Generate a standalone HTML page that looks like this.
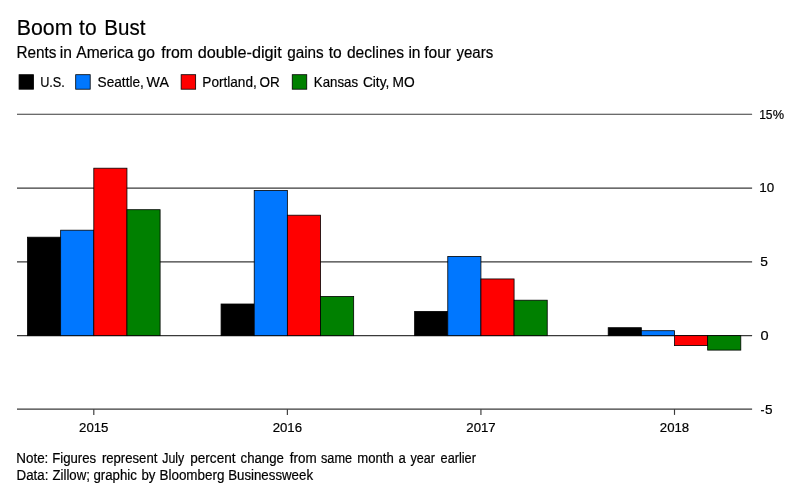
<!DOCTYPE html>
<html lang="en">
<head>
<meta charset="utf-8">
<title>Boom to Bust</title>
<style>
html,body{margin:0;padding:0;background:#fff;}
body{width:800px;height:490px;overflow:hidden;font-family:"Liberation Sans",Arial,Helvetica,sans-serif;}
svg{display:block;will-change:transform;}
text{font-family:"Liberation Sans",Arial,Helvetica,sans-serif;fill:#000;stroke:#000;stroke-width:0.2px;}
.g{stroke:#3a3a3a;stroke-width:1.15;}
.b{stroke:#000;stroke-width:0.8;}
</style>
</head>
<body>
<svg width="800" height="490" viewBox="0 0 800 490">
<rect x="0" y="0" width="800" height="490" fill="#ffffff"/>
<text x="16.78" y="34.9" font-size="22" textLength="55.76" lengthAdjust="spacingAndGlyphs">Boom</text>
<text x="79.10" y="34.9" font-size="22" textLength="17.52" lengthAdjust="spacingAndGlyphs">to</text>
<text x="104.27" y="34.9" font-size="22" textLength="41.09" lengthAdjust="spacingAndGlyphs">Bust</text>
<text x="16.54" y="57.8" font-size="16" textLength="39.96" lengthAdjust="spacingAndGlyphs">Rents</text>
<text x="59.80" y="57.8" font-size="16" textLength="12.14" lengthAdjust="spacingAndGlyphs">in</text>
<text x="76.25" y="57.8" font-size="16" textLength="57.15" lengthAdjust="spacingAndGlyphs">America</text>
<text x="137.52" y="57.8" font-size="16" textLength="17.35" lengthAdjust="spacingAndGlyphs">go</text>
<text x="161.25" y="57.8" font-size="16" textLength="31.57" lengthAdjust="spacingAndGlyphs">from</text>
<text x="197.75" y="57.8" font-size="16" textLength="83.94" lengthAdjust="spacingAndGlyphs">double-digit</text>
<text x="287.25" y="57.8" font-size="16" textLength="36.50" lengthAdjust="spacingAndGlyphs">gains</text>
<text x="328.77" y="57.8" font-size="16" textLength="13.01" lengthAdjust="spacingAndGlyphs">to</text>
<text x="346.90" y="57.8" font-size="16" textLength="57.10" lengthAdjust="spacingAndGlyphs">declines</text>
<text x="408.38" y="57.8" font-size="16" textLength="12.14" lengthAdjust="spacingAndGlyphs">in</text>
<text x="424.25" y="57.8" font-size="16" textLength="26.80" lengthAdjust="spacingAndGlyphs">four</text>
<text x="456.50" y="57.8" font-size="16" textLength="36.70" lengthAdjust="spacingAndGlyphs">years</text>
<text x="40.15" y="87.4" font-size="15.0" textLength="24.74" lengthAdjust="spacingAndGlyphs">U.S.</text>
<text x="97.55" y="87.4" font-size="15.0" textLength="46.31" lengthAdjust="spacingAndGlyphs">Seattle,</text>
<text x="146.60" y="87.4" font-size="15.0" textLength="22.35" lengthAdjust="spacingAndGlyphs">WA</text>
<text x="202.34" y="87.4" font-size="15.0" textLength="54.47" lengthAdjust="spacingAndGlyphs">Portland,</text>
<text x="259.55" y="87.4" font-size="15.0" textLength="20.25" lengthAdjust="spacingAndGlyphs">OR</text>
<text x="313.87" y="87.4" font-size="15.0" textLength="44.17" lengthAdjust="spacingAndGlyphs">Kansas</text>
<text x="362.90" y="87.4" font-size="15.0" textLength="26.42" lengthAdjust="spacingAndGlyphs">City,</text>
<text x="392.58" y="87.4" font-size="15.0" textLength="22.18" lengthAdjust="spacingAndGlyphs">MO</text>
<text x="16.29" y="463.25" font-size="14.0" textLength="32.06" lengthAdjust="spacingAndGlyphs">Note:</text>
<text x="52.16" y="463.25" font-size="14.0" textLength="43.94" lengthAdjust="spacingAndGlyphs">Figures</text>
<text x="101.90" y="463.25" font-size="14.0" textLength="55.50" lengthAdjust="spacingAndGlyphs">represent</text>
<text x="162.25" y="463.25" font-size="14.0" textLength="22.00" lengthAdjust="spacingAndGlyphs">July</text>
<text x="190.25" y="463.25" font-size="14.0" textLength="45.24" lengthAdjust="spacingAndGlyphs">percent</text>
<text x="240.60" y="463.25" font-size="14.0" textLength="43.20" lengthAdjust="spacingAndGlyphs">change</text>
<text x="289.75" y="463.25" font-size="14.0" textLength="26.89" lengthAdjust="spacingAndGlyphs">from</text>
<text x="321.00" y="463.25" font-size="14.0" textLength="31.06" lengthAdjust="spacingAndGlyphs">same</text>
<text x="357.25" y="463.25" font-size="14.0" textLength="36.49" lengthAdjust="spacingAndGlyphs">month</text>
<text x="398.44" y="463.25" font-size="14.0" textLength="7.32" lengthAdjust="spacingAndGlyphs">a</text>
<text x="410.60" y="463.25" font-size="14.0" textLength="24.35" lengthAdjust="spacingAndGlyphs">year</text>
<text x="440.60" y="463.25" font-size="14.0" textLength="35.34" lengthAdjust="spacingAndGlyphs">earlier</text>
<text x="16.55" y="479.6" font-size="14.0" textLength="31.80" lengthAdjust="spacingAndGlyphs">Data:</text>
<text x="52.50" y="479.6" font-size="14.0" textLength="37.34" lengthAdjust="spacingAndGlyphs">Zillow;</text>
<text x="93.50" y="479.6" font-size="14.0" textLength="43.40" lengthAdjust="spacingAndGlyphs">graphic</text>
<text x="141.51" y="479.6" font-size="14.0" textLength="13.97" lengthAdjust="spacingAndGlyphs">by</text>
<text x="159.44" y="479.6" font-size="14.0" textLength="65.07" lengthAdjust="spacingAndGlyphs">Bloomberg</text>
<text x="228.15" y="479.6" font-size="14.0" textLength="84.90" lengthAdjust="spacingAndGlyphs">Businessweek</text>
<text x="759.15" y="118.6" font-size="13.4" textLength="13.41" lengthAdjust="spacingAndGlyphs">15</text>
<text x="772.80" y="118.6" font-size="13.4" textLength="11.36" lengthAdjust="spacingAndGlyphs">%</text>
<text x="759.30" y="192.1" font-size="13.4" textLength="14.90" lengthAdjust="spacingAndGlyphs">10</text>
<text x="760.30" y="266.2" font-size="13.4" textLength="7.66" lengthAdjust="spacingAndGlyphs">5</text>
<text x="760.50" y="340.3" font-size="13.4" textLength="8.09" lengthAdjust="spacingAndGlyphs">0</text>
<text x="760.50" y="414.3" font-size="13.4" textLength="4.01" lengthAdjust="spacingAndGlyphs">-</text>
<text x="764.90" y="414.3" font-size="13.4" textLength="7.55" lengthAdjust="spacingAndGlyphs">5</text>
<text x="79.10" y="431.9" font-size="13.2" textLength="29.33" lengthAdjust="spacingAndGlyphs">2015</text>
<text x="272.70" y="431.9" font-size="13.2" textLength="29.33" lengthAdjust="spacingAndGlyphs">2016</text>
<text x="466.30" y="431.9" font-size="13.2" textLength="29.33" lengthAdjust="spacingAndGlyphs">2017</text>
<text x="659.85" y="431.9" font-size="13.2" textLength="29.33" lengthAdjust="spacingAndGlyphs">2018</text>
<rect class="b" x="19.06" y="74.7" width="14.5" height="14.5" fill="#000000"/>
<rect class="b" x="75.7" y="74.7" width="14.5" height="14.5" fill="#0077ff"/>
<rect class="b" x="181.15" y="74.7" width="14.5" height="14.5" fill="#ff0000"/>
<rect class="b" x="292.25" y="74.7" width="14.5" height="14.5" fill="#008000"/>
<line class="g" x1="17" x2="752.1" y1="114.25" y2="114.25"/>
<line class="g" x1="17" x2="752.1" y1="188.05" y2="188.05"/>
<line class="g" x1="17" x2="752.1" y1="261.85" y2="261.85"/>
<line class="g" x1="17" x2="752.1" y1="335.65" y2="335.65"/>
<line class="g" x1="17" x2="752.1" y1="409.15" y2="409.15"/>
<line class="g" x1="93.8" x2="93.8" y1="409.15" y2="414.9"/>
<line class="g" x1="287.37" x2="287.37" y1="409.15" y2="414.9"/>
<line class="g" x1="480.93" x2="480.93" y1="409.15" y2="414.9"/>
<line class="g" x1="674.5" x2="674.5" y1="409.15" y2="414.9"/>
<rect class="b" x="27.50" y="237.20" width="33.15" height="98.45" fill="#000000"/>
<rect class="b" x="60.65" y="230.20" width="33.15" height="105.45" fill="#0077ff"/>
<rect class="b" x="93.80" y="168.20" width="33.15" height="167.45" fill="#ff0000"/>
<rect class="b" x="126.95" y="209.70" width="33.15" height="125.95" fill="#008000"/>
<rect class="b" x="221.07" y="304.00" width="33.15" height="31.65" fill="#000000"/>
<rect class="b" x="254.22" y="190.45" width="33.15" height="145.20" fill="#0077ff"/>
<rect class="b" x="287.37" y="215.20" width="33.15" height="120.45" fill="#ff0000"/>
<rect class="b" x="320.52" y="296.45" width="33.15" height="39.20" fill="#008000"/>
<rect class="b" x="414.63" y="311.40" width="33.15" height="24.25" fill="#000000"/>
<rect class="b" x="447.78" y="256.45" width="33.15" height="79.20" fill="#0077ff"/>
<rect class="b" x="480.93" y="278.95" width="33.15" height="56.70" fill="#ff0000"/>
<rect class="b" x="514.08" y="300.20" width="33.15" height="35.45" fill="#008000"/>
<rect class="b" x="608.20" y="327.70" width="33.15" height="7.95" fill="#000000"/>
<rect class="b" x="641.35" y="330.70" width="33.15" height="4.95" fill="#0077ff"/>
<rect class="b" x="674.50" y="335.65" width="33.15" height="9.95" fill="#ff0000"/>
<rect class="b" x="707.65" y="335.65" width="33.15" height="14.45" fill="#008000"/>
</svg>
</body>
</html>
